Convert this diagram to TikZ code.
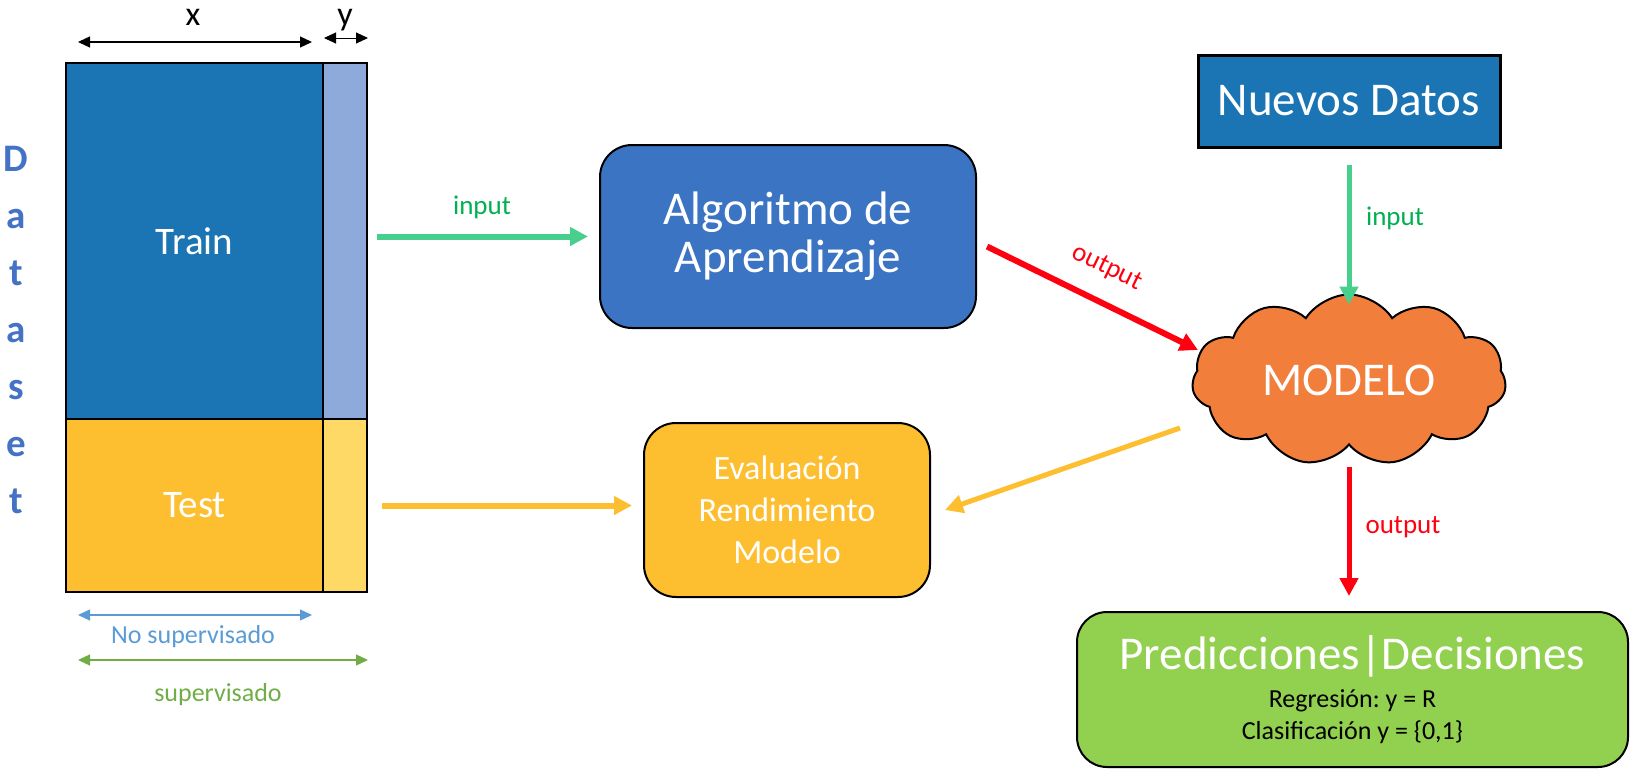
\documentclass[tikz,border=0pt]{standalone}
\usepackage{fontspec}
\setmainfont{Carlito}
\usetikzlibrary{arrows.meta,shapes.symbols}
\definecolor{trainblue}{HTML}{1B75B4}
\definecolor{ylight}{HTML}{8EAADB}
\definecolor{testyel}{HTML}{FDBE2F}
\definecolor{ytestyel}{HTML}{FFD966}
\definecolor{algoblue}{HTML}{3B74C3}
\definecolor{cloudor}{HTML}{F27E3C}
\definecolor{predgreen}{HTML}{92D050}
\definecolor{inarrow}{HTML}{48CF8E}
\definecolor{intext}{HTML}{00B050}
\definecolor{outred}{HTML}{FF0010}
\definecolor{dsblue}{HTML}{4472C4}
\definecolor{nsblue}{HTML}{5B9BD5}
\definecolor{sgreen}{HTML}{70AD47}
\newcommand\subf{\fontsize{26}{32}\selectfont\color{black}}
\frenchspacing
\begin{document}
\begin{tikzpicture}[x=1pt,y=-1pt,
  cell/.style={draw=black, line width=2.5pt, inner sep=0pt, text=white},
  dimarrow/.style={line width=1.3pt, {Triangle[length=12pt,width=11pt]}-{Triangle[length=12pt,width=11pt]}},
  bigarrow/.style={line width=6pt, -{Triangle[length=18pt,width=18pt]}},
  roundbox/.style={draw=black, line width=2pt, rounded corners=32pt, text=white, align=center, inner sep=0pt},
  lbl/.style={font=\fontsize{27}{30}\selectfont, inner sep=0pt}
]
\useasboundingbox (0,0) rectangle (1631,771);

% dataset table
\node[cell, fill=trainblue, minimum width=257pt, minimum height=356pt, font=\fontsize{39}{44}\selectfont] (train) at (194.5,241) {Train};
\node[cell, fill=ylight, minimum width=44pt, minimum height=356pt] (ytrain) at (345,241) {};
\node[cell, fill=testyel, minimum width=257pt, minimum height=173pt, font=\fontsize{39}{44}\selectfont] (test) at (194.5,505.5) {Test};
\node[cell, fill=ytestyel, minimum width=44pt, minimum height=173pt] (ytest) at (345,505.5) {};

% x / y dimension labels
\node[font=\fontsize{34}{38}\selectfont, inner sep=0pt, anchor=base] (xlab) at (193,25) {x};
\node[font=\fontsize{34}{38}\selectfont, inner sep=0pt, anchor=base] (ylab) at (345,25) {y};
\coordinate (xa) at (78,42); \coordinate (xb) at (312,42);
\coordinate (ya) at (324,38); \coordinate (yb) at (368,38);
\draw[dimarrow, black] (xa) -- (xb);
\draw[dimarrow, black, line width=1pt] (ya) -- (yb);

% Dataset vertical word
\node[font=\fontsize{39}{57}\selectfont\bfseries, text=dsblue, align=center, inner sep=0pt] (dataset) at (16,330) {D\\a\\t\\a\\s\\e\\t};

% supervision arrows
\coordinate (nsa) at (78,615); \coordinate (nsb) at (312,615);
\coordinate (sa) at (78,660); \coordinate (sb) at (368,660);
\draw[dimarrow, nsblue] (nsa) -- (nsb);
\draw[dimarrow, sgreen] (sa) -- (sb);
\node[font=\fontsize{26}{30}\selectfont, text=nsblue, inner sep=0pt] (nslab) at (193,637) {No supervisado};
\node[font=\fontsize{26}{30}\selectfont, text=sgreen, inner sep=0pt] (slab) at (218,695) {supervisado};

% Algoritmo
\node[roundbox, fill=algoblue, minimum width=376pt, minimum height=183pt, font=\fontsize{47}{48}\selectfont] (algo) at (788,236.5) {Algoritmo de\\Aprendizaje};

% Evaluacion
\node[roundbox, fill=testyel, minimum width=286pt, minimum height=174pt, font=\fontsize{34}{42}\selectfont] (eval) at (787,510) {Evaluación\\Rendimiento\\Modelo};

% Nuevos datos
\node[cell, line width=3pt, fill=trainblue, minimum width=302pt, minimum height=92pt, font=\fontsize{47}{50}\selectfont] (nuevos) at (1349,101) {Nuevos Datos};

% Cloud
\node[cloud, cloud puffs=11, cloud puff arc=115, aspect=1.85, draw=black, line width=2pt, fill=cloudor,
      minimum width=314pt, minimum height=171pt, inner sep=0pt, text=white, font=\fontsize{47}{50}\selectfont] (modelo) at (1349,380) {MODELO};

% Predicciones
\node[roundbox, rounded corners=30pt, fill=predgreen, minimum width=551pt, minimum height=155pt, font=\fontsize{47}{46}\selectfont] (pred) at (1352.5,689.5)
  {Predicciones|Decisiones\\[-8pt]\subf Regresión: y = R\\[-14pt]\subf Clasificación y = \{0,1\}};

% connectors
\draw[bigarrow, inarrow, shorten <=9pt, shorten >=11pt] (ytrain.east |- algo.west) -- (algo.west);
\node[lbl, text=intext] (in1) at (482,207) {input};

\draw[bigarrow, testyel, shorten <=14pt, shorten >=11pt] (ytest.east) -- (ytest.east -| eval.west);

\draw[bigarrow, outred] ([shift={(10,10)}]algo.east) -- ([shift={(-151,-30)}]modelo.center);
\node[lbl, text=outred, rotate=-26] (out1) at (1107,268) {output};

\draw[bigarrow, line width=5pt, testyel] ([shift={(-169,48)}]modelo.center) -- ([xshift=14pt]eval.east);

\draw[bigarrow, line width=5pt, inarrow, shorten <=16pt] (nuevos.south) -- ([yshift=-11pt]modelo.north);
\node[lbl, text=intext] (in2) at (1395,218) {input};

\draw[bigarrow, line width=5pt, outred, shorten <=21pt, shorten >=15pt] (modelo.south) -- (modelo.south |- pred.north);
\node[lbl, text=outred] (out2) at (1403,527) {output};
\end{tikzpicture}
\end{document}
